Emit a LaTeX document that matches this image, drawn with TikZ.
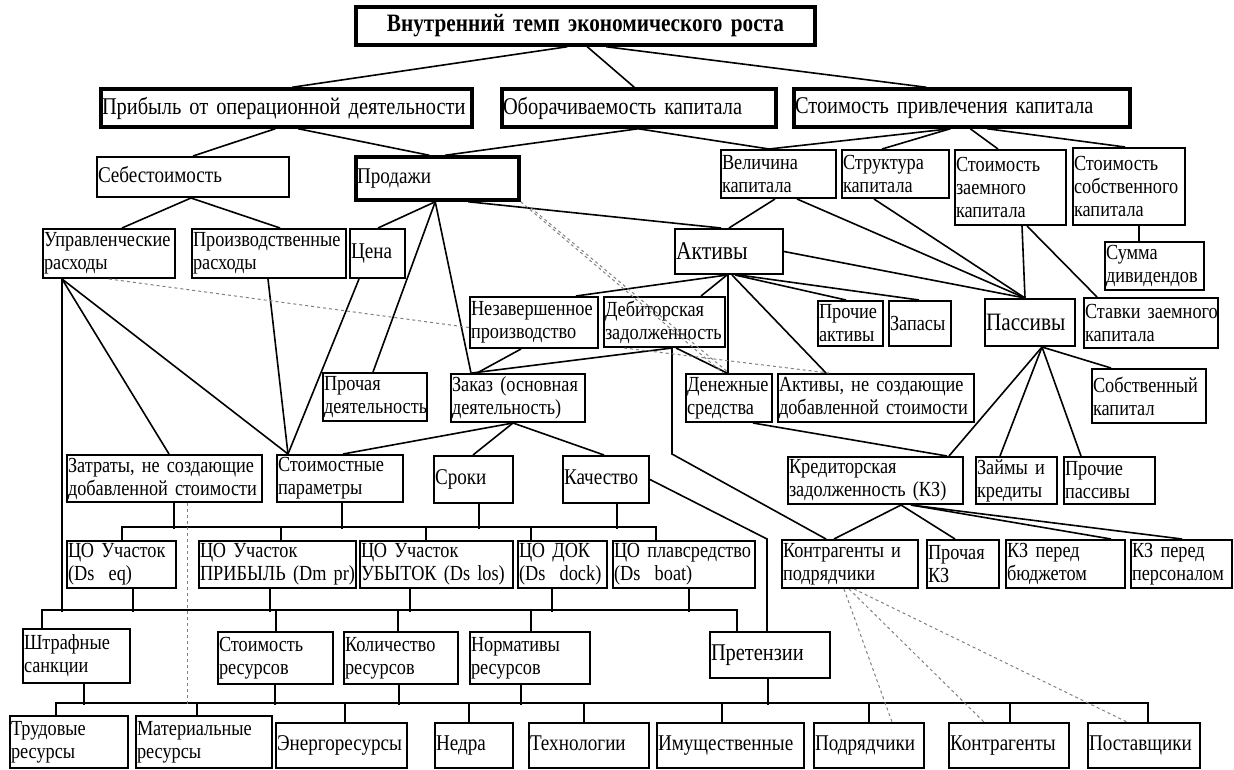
\documentclass[tikz,border=0pt]{standalone}
\usepackage{fontspec}
\setmainfont{Liberation Serif}[FakeStretch=0.85, WordSpace=0.6]
\usepackage{tikz}

\begin{document}
\begin{tikzpicture}[x=1pt, y=-1pt, line width=1.6pt,
    box/.style 2 args ={draw, line width=2pt, minimum width=#1pt, minimum height=#2pt, text width=#1pt-2pt, inner xsep=1pt, inner ysep=1pt, align=left, font=\fontsize{21.5}{23}\selectfont},
    bigbox/.style 2 args ={box={#1}{#2}, line width=3.5pt, font=\fontsize{24}{26}\selectfont},
    word/.style ={font=\fontsize{22.5}{24}\selectfont, text height=15pt, text depth=5pt},
    hint/.style ={gray, dashed, line width=1pt}]
   \useasboundingbox (0,0) rectangle (1234,769);

   \node[bigbox={459}{38}, align=center, font=\bfseries\fontsize{25}{27}\selectfont] (Top) at (585.5,26) {Внутренний темп экономического роста};
   \node[bigbox={371}{38}] (Prib) at (286.5,108) {Прибыль от операционной деятельности};
   \node[bigbox={274}{38}] (Obor) at (639,108) {Оборачиваемость капитала};
   \node[bigbox={336}{38}] (Stpr) at (962,108) {Стоимость привлечения капитала};

   \node[box={192}{40}, word] (Seb) at (193,177) {Себестоимость};
   \node[bigbox={163}{43}, word] (Prod) at (437.5,178.5) {Продажи};
   \node[box={115}{48}] (Vel) at (778.5,174) {Величина\\капитала};
   \node[box={107}{48}] (Str) at (895.5,174) {Структура\\капитала};
   \node[box={111}{75}] (Zaem) at (1010.5,187.5) {Стоимость\\заемного\\капитала};
   \node[box={112}{77}] (Sobst) at (1129,186.5) {Стоимость\\собственного\\капитала};

   \node[box={132}{49}] (Upr) at (109,253.5) {Управленческие\\расходы};
   \node[box={154}{49}] (Proizv) at (269,253.5) {Производственные\\расходы};
   \node[box={55}{49}, word] (Cena) at (377.5,253.5) {Цена};
   \node[box={108}{45}, font=\fontsize{25.5}{27}\selectfont] (Aktivy) at (729,251.5) {Активы};
   \node[box={99}{48}] (Summa) at (1154.5,266) {Сумма\\дивидендов};

   \node[box={128}{51}] (Nezav) at (534,322.5) {Незавершенное\\производство};
   \node[box={121}{50}] (Debit) at (664.5,322) {Дебиторская\\задолженность};
   \node[box={65}{45}] (Prakt) at (850.5,323.5) {Прочие\\активы};
   \node[box={62}{45}] (Zapasy) at (920,323.5) {Запасы};
   \node[box={90}{47}, font=\fontsize{25}{27}\selectfont] (Passivy) at (1030,322.5) {Пассивы};
   \node[box={134}{50}] (Stavki) at (1151,323) {Ставки~заемного\\капитала};

   \node[box={104}{48}] (Prochd) at (375,397) {Прочая\\деятельность};
   \node[box={134}{48}] (Zakaz) at (518,398) {Заказ (основная\\деятельность)};
   \node[box={86}{48}] (Den) at (729,398) {Денежные\\средства};
   \node[box={196}{48}] (Aktne) at (876,398) {Активы, не создающие\\добавленной стоимости};
   \node[box={114}{54}] (Sobkap) at (1149,396) {Собственный\\капитал};

   \node[box={195}{47}] (Zatr) at (164.5,478.5) {Затраты, не создающие\\добавленной стоимости};
   \node[box={126}{47}] (Stpar) at (340,478.5) {Стоимостные\\параметры};
   \node[box={79}{47}, word] (Sroki) at (473.5,479.5) {Сроки};
   \node[box={86}{47}, word] (Kach) at (606,479.5) {Качество};
   \node[box={175}{47}] (Kred) at (875.5,480.5) {Кредиторская\\задолженность (КЗ)};
   \node[box={81}{47}] (Zaim) at (1016.5,480.5) {Займы и\\кредиты};
   \node[box={91}{47}] (Prpas) at (1109.5,480.5) {Прочие\\пассивы};

   \node[box={109}{47}] (Coeq) at (121.5,564.5) {ЦО Участок\\(Ds~ eq)};
   \node[box={157}{47}] (Copr) at (277.5,564.5) {ЦО Участок\\ПРИБЫЛЬ~(Dm~pr)};
   \node[box={153}{47}] (Coub) at (436.5,564.5) {ЦО Участок\\УБЫТОК~(Ds~los)};
   \node[box={89}{47}] (Codok) at (562.5,564.5) {ЦО ДОК\\(Ds~ dock)};
   \node[box={142}{47}] (Coboat) at (684,564.5) {ЦО плавсредство\\(Ds~ boat)};
   \node[box={136}{48}] (Kontr) at (850,564) {Контрагенты и\\подрядчики};
   \node[box={72}{48}] (Prkz) at (963,564) {Прочая\\КЗ};
   \node[box={119}{48}] (Kzb) at (1065.5,564) {КЗ перед\\бюджетом};
   \node[box={101}{48}] (Kzp) at (1181.5,564) {КЗ перед\\персоналом};

   \node[box={107}{54}] (Shtraf) at (76.5,656) {Штрафные\\санкции};
   \node[box={115}{52}] (Stres) at (275.5,658) {Стоимость\\ресурсов};
   \node[box={114}{52}] (Kolres) at (401,658) {Количество\\ресурсов};
   \node[box={120}{52}] (Normres) at (530,658) {Нормативы\\ресурсов};
   \node[box={120}{46}, word, font=\fontsize{24}{26}\selectfont] (Pretenz) at (770,655) {Претензии};

   \node[box={118}{52}] (Trud) at (69,742) {Трудовые\\ресурсы};
   \node[box={136}{52}] (Mater) at (204,742) {Материальные\\ресурсы};
   \node[box={131}{45}, word] (Energ) at (341.5,745.5) {Энергоресурсы};
   \node[box={78}{45}, word] (Nedra) at (474,745.5) {Недра};
   \node[box={120}{45}, word] (Tehn) at (589,745.5) {Технологии};
   \node[box={147}{45}, word] (Imush) at (730.5,745.5) {Имущественные};
   \node[box={110}{45}, word] (Podr) at (869,745.5) {Подрядчики};
   \node[box={120}{45}, word] (Kontrag) at (1009,745.5) {Контрагенты};
   \node[box={112}{45}, word] (Postav) at (1144,745.5) {Поставщики};

   \draw ([xshift=213pt]Top.south west) to ([xshift=193pt]Prib.north west);
   \draw ([xshift=233pt]Top.south west) to ([xshift=134pt]Obor.north west);
   \draw ([xshift=252pt]Top.south west) to ([xshift=134pt]Stpr.north west);
   \draw ([xshift=176pt]Prib.south west) to ([xshift=97pt]Seb.north west);
   \draw ([xshift=199pt]Prib.south west) to ([xshift=75pt]Prod.north west);
   \draw ([xshift=138pt]Obor.south west) to ([xshift=91pt]Prod.north west);
   \draw ([xshift=138pt]Obor.south west) to ([xshift=49pt]Vel.north west);
   \draw ([xshift=158pt]Stpr.south west) to ([xshift=49pt]Vel.north west);
   \draw ([xshift=158pt]Stpr.south west) to ([xshift=41pt]Str.north west);
   \draw ([xshift=178pt]Stpr.south west) to ([xshift=44pt]Zaem.north west);
   \draw ([xshift=195pt]Stpr.south west) to ([xshift=53pt]Sobst.north west);

   \draw ([xshift=95pt]Seb.south west) to ([xshift=80pt]Upr.north west);
   \draw ([xshift=95pt]Seb.south west) to ([xshift=89pt]Proizv.north west);
   \draw ([xshift=81pt]Prod.south west) to ([xshift=29pt]Cena.north west);
   \draw ([xshift=81pt]Prod.south west) to ([xshift=51pt]Prochd.north west);
   \draw ([xshift=81pt]Prod.south west) to ([xshift=21pt]Zakaz.north west);
   \draw ([xshift=114pt]Prod.south west) to ([xshift=47pt]Aktivy.north west);
   \draw ([xshift=55pt]Vel.south west) to ([xshift=55pt]Aktivy.north west);
   \draw ([xshift=77pt]Vel.south west) to ([xshift=41pt]Passivy.north west);
   \draw ([xshift=33pt]Str.south west) to ([xshift=41pt]Passivy.north west);
   \draw ([xshift=68pt]Zaem.south west) to ([xshift=41pt]Passivy.north west);
   \draw ([xshift=73pt]Zaem.south west) to ([xshift=14pt]Stavki.north west);
   \draw ([xshift=67pt]Sobst.south west) to ([xshift=35pt]Summa.north west);

   \draw (Aktivy.east) to ([xshift=41pt]Passivy.north west);
   \draw ([xshift=53pt]Aktivy.south west) to ([xshift=107pt]Nezav.north west);
   \draw ([xshift=53pt]Aktivy.south west) to ([xshift=98pt]Debit.north west);
   \draw ([xshift=54pt]Aktivy.south west) to ([xshift=43pt]Den.north west);
   \draw ([xshift=58pt]Aktivy.south west) to ([xshift=49pt]Aktne.north west);
   \draw ([xshift=61pt]Aktivy.south west) to ([xshift=29pt]Prakt.north west);
   \draw ([xshift=65pt]Aktivy.south west) to ([xshift=31pt]Zapasy.north west);
   \draw ([xshift=69pt]Debit.south west) to ([xshift=22pt]Zakaz.north west);
   \draw ([xshift=52pt]Nezav.south west) to ([xshift=27pt]Zakaz.north west);
   \draw ([xshift=73pt]Debit.south west) to ([xshift=42pt]Den.north west);
   \draw ([xshift=69pt]Debit.south west) -- ++(0,106) -- ([xshift=45pt]Kontr.north west);
   \draw ([xshift=68pt]Den.south west) to ([xshift=160pt]Kred.north west);
   \draw ([xshift=58pt]Passivy.south west) to ([xshift=162pt]Kred.north west);
   \draw ([xshift=58pt]Passivy.south west) to ([xshift=25pt]Zaim.north west);
   \draw ([xshift=58pt]Passivy.south west) to ([xshift=18pt]Prpas.north west);
   \draw ([xshift=58pt]Passivy.south west) to ([xshift=20pt]Sobkap.north west);

   \draw ([xshift=20pt]Upr.south west) to ([xshift=103pt]Zatr.north west);
   \draw ([xshift=20pt]Upr.south west) to ([xshift=12pt]Stpar.north west);
   \draw ([xshift=20pt]Upr.south west) -- ++(0,333);
   \draw ([xshift=77pt]Proizv.south west) to ([xshift=12pt]Stpar.north west);
   \draw ([xshift=10pt]Cena.south west) to ([xshift=12pt]Stpar.north west);
   \draw ([xshift=63pt]Zakaz.south west) to ([xshift=67pt]Stpar.north west);
   \draw ([xshift=63pt]Zakaz.south west) to ([xshift=40pt]Sroki.north west);
   \draw ([xshift=63pt]Zakaz.south west) to ([xshift=42pt]Kach.north west);
   \draw (Kach.east) -- ([xshift=58pt,yshift=92pt]Pretenz.north west) -- ([xshift=58pt]Pretenz.north west);

   \draw ([xshift=108pt]Zatr.south west) -- ++(0,26);
   \draw ([xshift=66pt]Stpar.south west) -- ++(0,26);
   \draw ([xshift=46pt]Sroki.south west) -- ++(0,25);
   \draw ([xshift=55pt]Kach.south west) -- ++(0,25);
   \draw ([xshift=56pt]Coeq.north west) -- ++(0,-13) -| ([xshift=44pt]Coboat.north west);
   \draw ([xshift=83pt]Copr.north west) -- ++(0,-13);
   \draw ([xshift=67pt]Coub.north west) -- ++(0,-13);
   \draw ([xshift=14pt]Codok.north west) -- ++(0,-13);

   \draw ([xshift=67pt]Coeq.south west) -- ++(0,23);
   \draw ([xshift=72pt]Copr.south west) -- ++(0,23);
   \draw ([xshift=51pt]Coub.south west) -- ++(0,23);
   \draw ([xshift=35pt]Codok.south west) -- ++(0,23);
   \draw ([xshift=77pt]Coboat.south west) -- ++(0,23);
   \draw ([xshift=20pt]Shtraf.north west) -- ++(0,-18) -| ([xshift=28pt]Pretenz.north west);
   \draw ([xshift=59pt]Stres.north west) -- ++(0,-21);
   \draw ([xshift=55pt]Kolres.north west) -- ++(0,-21);
   \draw ([xshift=62pt]Normres.north west) -- ++(0,-21);

   \draw ([xshift=62pt]Shtraf.south west) -- ++(0,21);
   \draw ([xshift=58pt]Stres.south west) -- ++(0,20);
   \draw ([xshift=56pt]Kolres.south west) -- ++(0,20);
   \draw ([xshift=52pt]Normres.south west) -- ++(0,20);
   \draw ([xshift=59pt]Pretenz.south west) -- ++(0,26);
   \draw ([xshift=47pt]Trud.north west) -- ++(0,-12) -| ([xshift=61pt]Postav.north west);
   \draw ([xshift=62pt]Mater.north west) -- ++(0,-12);
   \draw ([xshift=70pt]Energ.north west) -- ++(0,-19);
   \draw ([xshift=35pt]Nedra.north west) -- ++(0,-19);
   \draw ([xshift=56pt]Tehn.north west) -- ++(0,-19);
   \draw ([xshift=66pt]Imush.north west) -- ++(0,-19);
   \draw ([xshift=56pt]Podr.north west) -- ++(0,-19);
   \draw ([xshift=62pt]Kontrag.north west) -- ++(0,-19);

   \draw ([xshift=114pt]Kred.south west) to ([xshift=53pt]Kontr.north west);
   \draw ([xshift=114pt]Kred.south west) to ([xshift=29pt]Prkz.north west);
   \draw ([xshift=124pt]Kred.south west) to ([xshift=106pt]Kzb.north west);
   \draw ([xshift=124pt]Kred.south west) to ([xshift=52pt]Kzp.north west);

   \draw[hint] (Prod.south east) to ([xshift=38pt]Den.north west);
   \draw[hint] ([xshift=10pt,yshift=-6pt]Prod.south east) to ([xshift=44pt]Den.north west);
   \draw[hint] ([xshift=21pt]Debit.south west) to ([xshift=52pt]Aktne.north west);
   \draw[hint] ([xshift=67pt]Upr.south west) to ([yshift=-5pt]Nezav.west);
   \draw[hint] ([xshift=121pt]Zatr.south west) -- ++(0,202);
   \draw[hint] ([xshift=63pt]Kontr.south west) to ([xshift=79pt]Podr.north west);
   \draw[hint] ([xshift=68pt]Kontr.south west) to ([xshift=36pt]Kontrag.north west);
   \draw[hint] ([xshift=73pt]Kontr.south west) to ([xshift=40pt]Postav.north west);
 \end{tikzpicture}
\end{document}
